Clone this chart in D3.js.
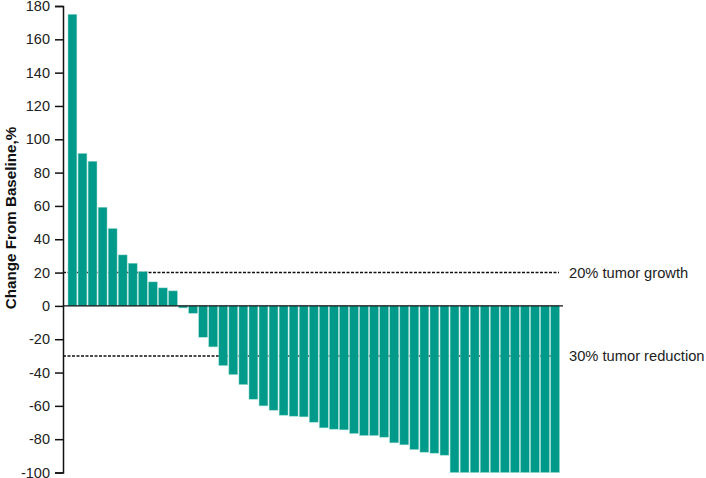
<!DOCTYPE html>
<html>
<head>
<meta charset="utf-8">
<script src="https://cdn.jsdelivr.net/npm/d3@7"></script>
<style>
    body { margin: 0; background: #fff; }
    svg { font-family: Arial, "Liberation Sans", sans-serif; }
</style>
</head>
<body>
<div id="chart"></div>
<script>
// Data: change from baseline per patient, sorted
const patients = d3.range(1, 50).map(i => 'P' + i);
const changes = [
    175, 91.5, 86.8, 59.2, 46.4, 30.6, 25.6, 20.6, 14.4, 10.8, 9,
    -1.2, -4.4, -18.8, -24.6, -35.8,
    -41.2, -47.2, -56, -60, -62.6, -65.6, -66.2, -66.6, -69.8, -73.2, -74, -74.4,
    -76.6, -77.8, -77.8, -78.8, -82.2, -83.4, -86.2, -87.8, -88.4, -89.6,
    -100, -100, -100, -100, -100, -100, -100, -100, -100, -100, -100
];
const yTicks = [-100, -80, -60, -40, -20, 0, 20, 40, 60, 80, 100, 120, 140, 160, 180];
const refLines = [20, -30];
const refLabels = ['20% tumor growth', '30% tumor reduction'];

const width = 706, height = 478;

const svg = d3.select('#chart')
    .append('svg')
    .attr('width', width)
    .attr('height', height);

const x = d3.scaleBand()
    .domain(patients)
    .range([68, 559.5])
    .paddingInner(0.12)
    .paddingOuter(0);

const y = d3.scaleLinear()
    .domain([-100, 180])
    .range([472.5, 6]);

// Reference lines (behind bars)
svg.selectAll('.ref-line')
    .data(refLines)
    .enter()
    .append('line')
    .attr('class', 'ref-line')
    .attr('x1', 63)
    .attr('x2', 559)
    .attr('y1', d => y(d))
    .attr('y2', d => y(d))
    .attr('stroke', '#111')
    .attr('stroke-width', 1.5)
    .attr('stroke-dasharray', '3,1.5');

svg.selectAll('.ref-label')
    .data(refLines)
    .enter()
    .append('text')
    .attr('class', 'ref-label')
    .attr('x', 569)
    .attr('y', d => y(d) + 5)
    .attr('font-size', 14.7)
    .attr('fill', '#222')
    .text((d, i) => refLabels[i]);

// Bars
svg.selectAll('.bar')
    .data(changes)
    .enter()
    .append('rect')
    .attr('class', 'bar')
    .attr('x', (d, i) => x(patients[i]))
    .attr('width', x.bandwidth())
    .attr('y', d => y(Math.max(0, d)))
    .attr('height', d => Math.abs(y(d) - y(0)))
    .attr('fill', '#009a8a')
    .attr('stroke', '#8fd6cc')
    .attr('stroke-width', 0.5);

// Zero baseline
svg.append('line')
    .attr('x1', 63)
    .attr('x2', 563)
    .attr('y1', y(0))
    .attr('y2', y(0))
    .attr('stroke', '#111')
    .attr('stroke-width', 1.2);

// Y axis
const yAxis = svg.append('g')
    .attr('transform', 'translate(63,0)')
    .call(d3.axisLeft(y)
        .tickValues(yTicks)
        .tickFormat(d => String(d))
        .tickSize(8)
        .tickPadding(5));

yAxis.select('.domain').attr('stroke', '#111').attr('stroke-width', 1.5);
yAxis.selectAll('.tick line').attr('stroke', '#111').attr('stroke-width', 1.5);
yAxis.selectAll('.tick text')
    .attr('font-size', 14.5)
    .attr('fill', '#222')
    .attr('font-family', 'Arial, "Liberation Sans", sans-serif');

// Y label
svg.append('text')
    .attr('transform', 'translate(16,218) rotate(-90)')
    .attr('text-anchor', 'middle')
    .attr('font-size', 15.2)
    .attr('font-weight', 'bold')
    .attr('fill', '#111')
    .text('Change From Baseline,%');
</script>
</body>
</html>
